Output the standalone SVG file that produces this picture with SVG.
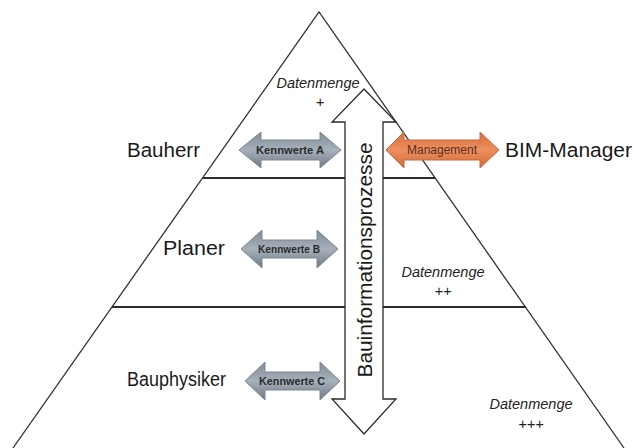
<svg xmlns="http://www.w3.org/2000/svg" width="634" height="448" viewBox="0 0 634 448">
<defs>
<linearGradient id="gray" x1="0" y1="0" x2="0" y2="1">
<stop offset="0" stop-color="#7f8a96"/>
<stop offset="0.5" stop-color="#a7b1bb"/>
<stop offset="1" stop-color="#6e7985"/>
</linearGradient>
<linearGradient id="orange" x1="0" y1="0" x2="0" y2="1">
<stop offset="0" stop-color="#d8703e"/>
<stop offset="0.5" stop-color="#ec8f5e"/>
<stop offset="1" stop-color="#d26a38"/>
</linearGradient>
<style>
.edge{stroke:#333;stroke-width:1.3;fill:none}
.sep{stroke:#2a2a2a;stroke-width:2.2;fill:none}
.lbl{font-family:"Liberation Sans",Arial,sans-serif;font-size:20px;fill:#1a1a1a}
.dm{font-family:"Liberation Sans",Arial,sans-serif;font-size:14.5px;font-style:italic;fill:#222;text-anchor:middle}
.kw{font-family:"Liberation Sans",Arial,sans-serif;font-size:11px;font-weight:bold;fill:#2a2a2a;text-anchor:middle}
.garrow{fill:url(#gray);stroke:#7d8792;stroke-width:1}
.oarrow{fill:url(#orange);stroke:#c8683a;stroke-width:1}
.varrow{fill:#fff;stroke:#2a2a2a;stroke-width:1.3}
</style>
</defs>
<rect width="634" height="448" fill="#fff"/>
<g id="pyramid">
<polyline class="edge" points="13,448 319,12 624,448"/>
<line class="sep" x1="203" y1="178" x2="435" y2="178"/>
<line class="sep" x1="112" y1="307" x2="526" y2="307"/>
</g>
<g id="levels">
<text class="lbl" x="127" y="157" textLength="73" lengthAdjust="spacingAndGlyphs">Bauherr</text>
<text class="lbl" x="163" y="255" textLength="62" lengthAdjust="spacingAndGlyphs">Planer</text>
<text class="lbl" x="127" y="386" textLength="99" lengthAdjust="spacingAndGlyphs">Bauphysiker</text>
<text class="lbl" x="505" y="157" textLength="127" lengthAdjust="spacingAndGlyphs">BIM-Manager</text>
</g>
<g id="datenmenge">
<text class="dm" x="318" y="88">Datenmenge</text>
<text class="dm" x="320" y="107">+</text>
<text class="dm" x="443" y="277">Datenmenge</text>
<text class="dm" x="443" y="296">++</text>
<text class="dm" x="531" y="409">Datenmenge</text>
<text class="dm" x="531" y="429">+++</text>
</g>
<g id="prozess">
<path class="varrow" d="M364,89 L396,122 L383,122 L383,399 L396,399 L364,434 L332,399 L345,399 L345,122 L332,122 Z"/>
<text class="lbl" transform="translate(372,260) rotate(-90)" text-anchor="middle" textLength="235" lengthAdjust="spacingAndGlyphs">Bauinformationsprozesse</text>
</g>
<g id="kennwerteA">
<path class="garrow" d="M239,150 L261,132 L261,140 L320,140 L320,132 L341,150 L320,168 L320,160 L261,160 L261,168 Z"/>
<text class="kw" x="290" y="154" textLength="68" lengthAdjust="spacingAndGlyphs">Kennwerte A</text>
</g>
<g id="kennwerteB">
<path class="garrow" d="M241,249 L262,230 L262,240 L317,240 L317,230 L338,249 L317,268 L317,258 L262,258 L262,268 Z"/>
<text class="kw" x="289" y="253" textLength="62" lengthAdjust="spacingAndGlyphs">Kennwerte B</text>
</g>
<g id="kennwerteC">
<path class="garrow" d="M245,381 L265,362 L265,372 L320,372 L320,362 L340,381 L320,400 L320,390 L265,390 L265,400 Z"/>
<text class="kw" x="292" y="385" textLength="66" lengthAdjust="spacingAndGlyphs">Kennwerte C</text>
</g>
<g id="management">
<path class="oarrow" d="M386,150 L404,132 L404,140 L480,140 L480,132 L499,150 L480,168 L480,160 L404,160 L404,168 Z"/>
<text x="442" y="154" text-anchor="middle" font-family="Liberation Sans, Arial, sans-serif" font-size="12" fill="#5a3020" textLength="70" lengthAdjust="spacingAndGlyphs">Management</text>
</g>
</svg>
